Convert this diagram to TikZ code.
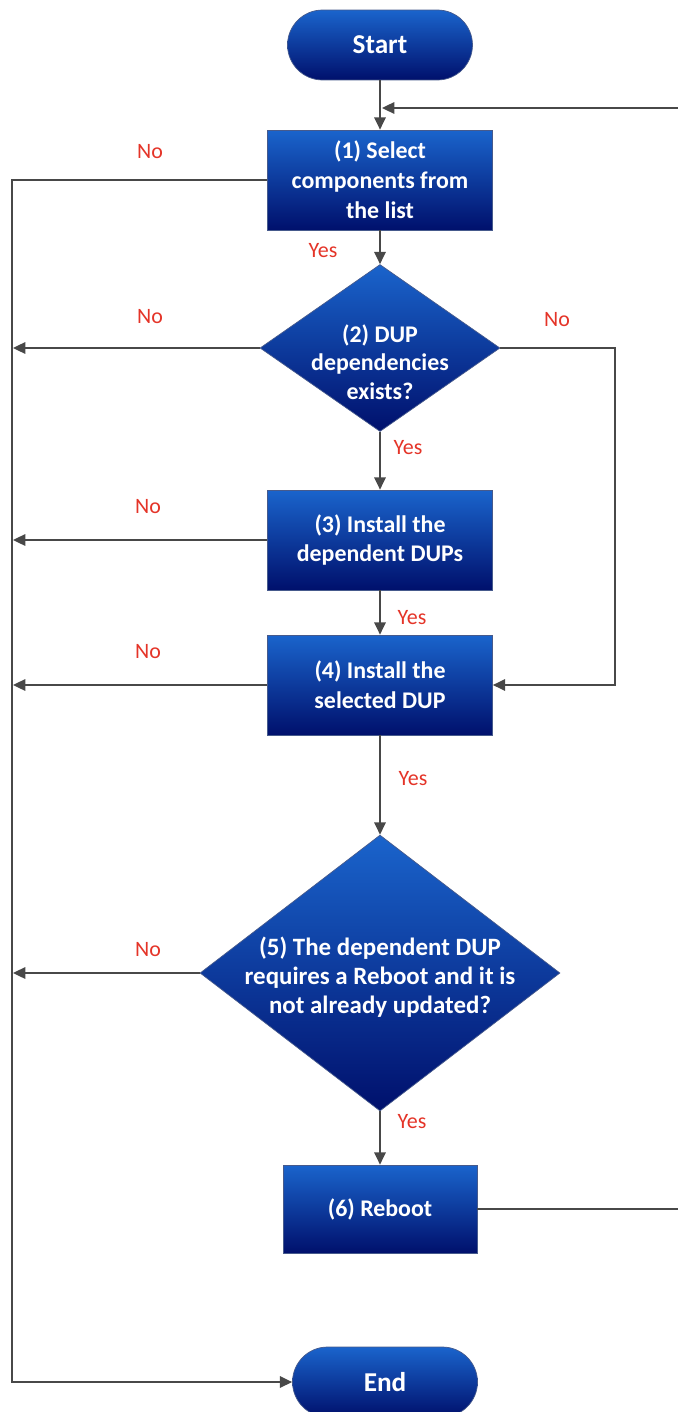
\documentclass[tikz,border=0pt]{standalone}
\usepackage{fontspec}
\setmainfont{Carlito}
\usetikzlibrary{shapes.geometric,shapes.misc,arrows.meta}
\definecolor{btop}{RGB}{26,100,204}
\definecolor{bbot}{RGB}{0,16,108}
\definecolor{bedge}{RGB}{70,90,140}
\definecolor{linec}{RGB}{72,72,72}
\definecolor{lblc}{RGB}{228,52,40}
\begin{document}
\begin{tikzpicture}[x=0.02cm,y=-0.02cm,
  flow/.style={draw=bedge, line width=0.4pt, top color=btop, bottom color=bbot,
    text=white, font=\bfseries\fontsize{13.6}{17}\selectfont, align=center, inner sep=0pt},
  procbox/.style={flow, rectangle, minimum width=4.5cm, minimum height=2cm},
  term/.style={flow, rounded rectangle, minimum width=3.7cm, minimum height=1.4cm,
    font=\bfseries\fontsize{15.5}{18}\selectfont},
  decision/.style={flow, diamond},
  dtext/.style={text=white, font=\bfseries\fontsize{13.6}{16.2}\selectfont, align=center, inner sep=0pt},
  lab/.style={text=lblc, font=\fontsize{12.5}{14}\selectfont, inner sep=0pt},
  conn/.style={draw=linec, line width=1.1pt, -{Triangle[length=7pt,width=6.5pt]}}]
\useasboundingbox (0,0) rectangle (677,1412);

% nodes
\node[term] (start) at (380,45) {Start};
\node[procbox] (b1) at (380,180) {(1) Select\\components from\\the list};
\node[decision, minimum width=4.8cm, minimum height=3.34cm] (d2) at (380,348) {};
\node[dtext] (d2t) at (380,362) {(2) DUP\\dependencies\\exists?};
\node[procbox] (b3) at (380,540) {(3) Install the\\dependent DUPs};
\node[procbox] (b4) at (380,685) {(4) Install the\\selected DUP};
\node[decision, minimum width=7.2cm, minimum height=5.52cm] (d5) at (380,973) {};
\node[dtext, font=\bfseries\fontsize{14.2}{16.4}\selectfont] (d5t) at (380,977) {(5) The dependent DUP\\requires a Reboot and it is\\not already updated?};
\node[procbox, minimum width=3.88cm, minimum height=1.76cm] (b6) at (380,1209) {(6) Reboot};
\node[term] (end) at (385,1382) {End};

% helper coordinates
\coordinate (loopR1) at (690,1209);
\coordinate (loopR2) at (690,108);
\coordinate (loopIn) at (382,108);
\coordinate (lTop) at (12,180);
\coordinate (lBot) at (12,1382);
\coordinate (l2) at (13,348);
\coordinate (l3) at (13,540);
\coordinate (l4) at (13,685);
\coordinate (l5) at (13,973);
\coordinate (r2a) at (615,348);
\coordinate (r2b) at (615,685);

% main flow
\draw[conn] (start.south) -- (b1.north);
\draw[conn] (b1.south) -- (d2.north);
\draw[conn] (d2.south) -- (b3.north);
\draw[conn] (b3.south) -- (b4.north);
\draw[conn] (b4.south) -- (d5.north);
\draw[conn] (d5.south) -- (b6.north);

% loop back
\draw[conn] (b6.east) -- (loopR1) -- (loopR2) -- (loopIn);

% left bus
\draw[conn] (b1.west) -- (lTop) -- (lBot) -- (end.west);
\draw[conn] (d2.west) -- (l2);
\draw[conn] (b3.west) -- (l3);
\draw[conn] (b4.west) -- (l4);
\draw[conn] (d5.west) -- (l5);

% right branch
\draw[conn] (d2.east) -- (r2a) -- (r2b) -- (b4.east);

% labels
\node[lab] (n1) at (150,152) {No};
\node[lab] (y1) at (323,251) {Yes};
\node[lab] (n2) at (150,317) {No};
\node[lab] (n2r) at (557,320) {No};
\node[lab] (y2) at (408,448) {Yes};
\node[lab] (n3) at (148,507) {No};
\node[lab] (y3) at (412,618) {Yes};
\node[lab] (n4) at (148,652) {No};
\node[lab] (y4) at (413,779) {Yes};
\node[lab] (n5) at (148,950) {No};
\node[lab] (y5) at (412,1122) {Yes};
\end{tikzpicture}
\end{document}
